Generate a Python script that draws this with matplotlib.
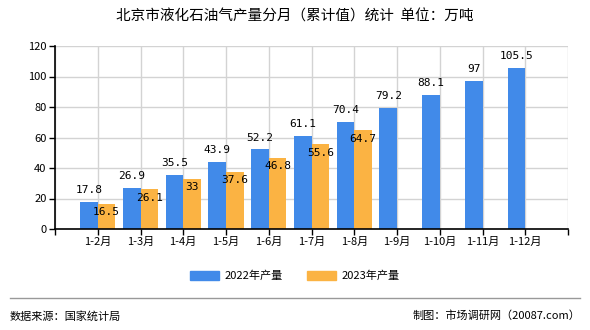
import numpy as np
import matplotlib
matplotlib.use("Agg")
import matplotlib.pyplot as plt
from matplotlib.patches import Patch
from matplotlib.lines import Line2D

plt.rcParams["font.family"] = ["Noto Sans CJK SC", "DejaVu Sans"]

months = ["1-2月", "1-3月", "1-4月", "1-5月", "1-6月", "1-7月",
          "1-8月", "1-9月", "1-10月", "1-11月", "1-12月"]
output_2022 = [17.8, 26.9, 35.5, 43.9, 52.2, 61.1, 70.4, 79.2, 88.1, 97, 105.5]
output_2023 = [16.5, 26.1, 33, 37.6, 46.8, 55.6, 64.7]

blue = "#418AE9"
orange = "#FBB343"

fig = plt.figure(figsize=(5.9, 3.3), dpi=100)
ax = fig.add_axes([55 / 590, 1 - 229 / 330, 513 / 590, 183 / 330])

x = np.arange(len(months))
w = 0.41
ax.bar(x - w / 2, output_2022, width=w, color=blue, zorder=3)
ax.bar(x[:len(output_2023)] + w / 2, output_2023, width=w, color=orange, zorder=3)

# value labels: 2022 above the bar, 2023 just under the bar top
for xi, v in zip(x, output_2022):
    ax.annotate(f"{v:g}", (xi - w / 2, v), xytext=(0, 8.5), textcoords="offset points",
                ha="center", va="center", fontsize=8, family="DejaVu Sans Mono", zorder=4)
for xi, v in zip(x, output_2023):
    ax.annotate(f"{v:g}", (xi + w / 2, v), xytext=(0, -6), textcoords="offset points",
                ha="center", va="center", fontsize=8, family="DejaVu Sans Mono", zorder=4)

ax.set_xlim(-1, len(months))
ax.set_ylim(0, 120)
ax.set_yticks(range(0, 121, 20))
ax.set_xticks(np.arange(-1, len(months) + 1))
ax.set_xticklabels([""] + months + [""])
ax.tick_params(axis="both", labelsize=8, length=4, width=1, color="black", pad=2)
ax.grid(True, color="#d3d3d3", linewidth=1, zorder=0)
for s in ["top", "right"]:
    ax.spines[s].set_visible(False)
for s in ["left", "bottom"]:
    ax.spines[s].set_linewidth(1.2)
    ax.spines[s].set_zorder(5)

fig.text(0.5, 1 - 17 / 330, "北京市液化石油气产量分月（累计值）统计  单位：万吨",
         ha="center", va="center", fontsize=10.5)

handles = [Patch(color=blue), Patch(color=orange)]
fig.legend(handles, ["2022年产量", "2023年产量"], loc="center",
           bbox_to_anchor=(0.5, 1 - 276 / 330), ncol=2, frameon=False,
           fontsize=8, handlelength=2.6, handleheight=0.9, columnspacing=2.2,
           handletextpad=0.5)

fig.add_artist(Line2D([10 / 590, 580 / 590], [1 - 298 / 330] * 2,
                      color="#999999", linewidth=1))
fig.text(10 / 590, 1 - 316 / 330, "数据来源：国家统计局", ha="left", va="center", fontsize=8)
fig.text(580 / 590, 1 - 316 / 330, "制图：市场调研网（20087.com）", ha="right", va="center", fontsize=8)

fig.savefig("out.png", dpi=100)
